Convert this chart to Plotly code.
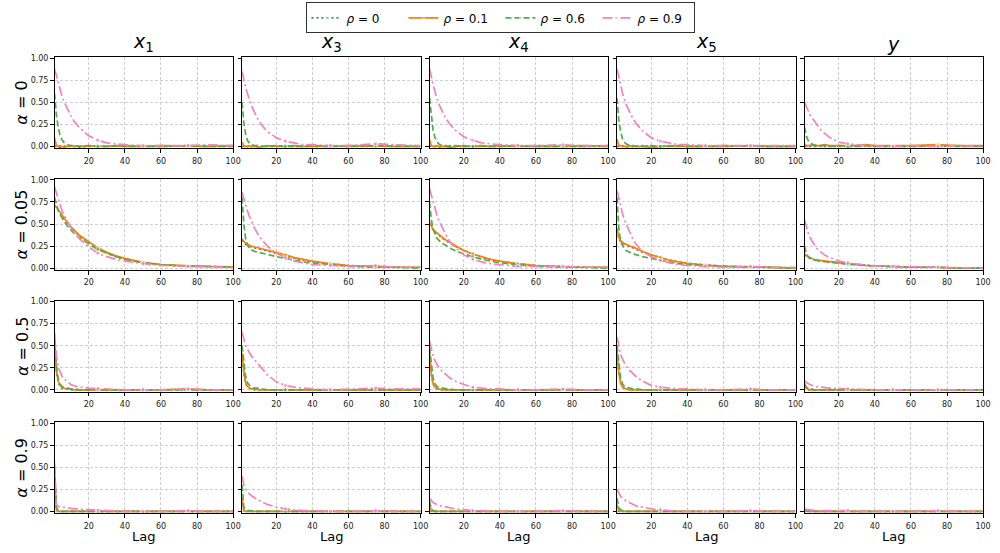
import plotly.graph_objects as go

# ---------------- data ----------------
LAGS = [1, 2, 3, 4, 5, 6, 8, 10, 12, 15, 20, 25, 30, 35, 40, 50, 60, 75, 85, 100]
MARKED_LAGS = [25, 50, 75]
RHO_LABELS = ["0", "0.1", "0.6", "0.9"]
COL_TITLES = ["<i>x</i><sub>1</sub>", "<i>x</i><sub>3</sub>", "<i>x</i><sub>4</sub>",
              "<i>x</i><sub>5</sub>", "<i>y</i>"]
ROW_ALPHAS = ["0", "0.05", "0.5", "0.9"]
X_TICKS = [20, 40, 60, 80, 100]
Y_TICKS = [0.0, 0.25, 0.5, 0.75, 1.0]

# each panel: [rho=0, rho=0.1, rho=0.6, rho=0.9]
A0_X1 = [
    [0.00, 0.01, 0.00, -0.01, 0.00, 0.00, 0.01, 0.00, 0.00, -0.01, 0.00, 0.01, 0.00, 0.00, 0.01, 0.00, 0.00, 0.01, 0.00, 0.00],
    [0.10, 0.01, 0.00, 0.01, 0.00, -0.01, 0.00, 0.01, 0.00, 0.00, 0.01, 0.00, 0.00, 0.01, 0.00, 0.00, 0.01, 0.00, 0.00, 0.01],
    [0.60, 0.36, 0.22, 0.13, 0.08, 0.05, 0.02, 0.01, 0.01, 0.00, 0.01, 0.00, 0.00, 0.01, 0.00, 0.00, 0.00, 0.01, 0.00, 0.00],
    [0.88, 0.80, 0.72, 0.65, 0.58, 0.52, 0.43, 0.35, 0.28, 0.21, 0.12, 0.07, 0.04, 0.03, 0.02, 0.01, 0.01, 0.01, 0.02, 0.01],
]
A0_X3 = [
    [0.00, 0.00, 0.01, 0.00, -0.01, 0.00, 0.00, 0.01, 0.00, 0.00, 0.00, 0.01, 0.00, 0.00, 0.00, 0.01, 0.00, 0.00, 0.01, 0.00],
    [0.05, 0.01, 0.00, 0.00, 0.01, 0.00, 0.00, -0.01, 0.00, 0.01, 0.00, 0.00, 0.01, 0.00, 0.00, 0.00, 0.01, 0.00, 0.00, 0.00],
    [0.50, 0.27, 0.14, 0.07, 0.04, 0.02, 0.01, 0.01, 0.00, 0.00, 0.01, 0.00, 0.00, 0.00, 0.01, 0.00, 0.00, 0.01, 0.00, 0.00],
    [0.85, 0.75, 0.67, 0.60, 0.53, 0.47, 0.38, 0.30, 0.24, 0.17, 0.10, 0.06, 0.04, 0.02, 0.02, 0.01, 0.01, 0.03, 0.02, 0.01],
]
A0_X4 = [
    [0.00, 0.01, 0.00, 0.00, 0.00, -0.01, 0.00, 0.00, 0.01, 0.00, 0.00, 0.00, 0.01, 0.00, 0.00, 0.00, 0.01, 0.00, 0.00, 0.00],
    [0.08, 0.01, 0.00, 0.00, 0.01, 0.00, 0.00, 0.00, -0.01, 0.00, 0.01, 0.00, 0.00, 0.00, 0.01, 0.00, 0.00, 0.00, 0.01, 0.00],
    [0.55, 0.32, 0.18, 0.10, 0.06, 0.03, 0.01, 0.01, 0.00, 0.01, 0.00, 0.00, 0.01, 0.00, 0.00, 0.01, 0.00, 0.00, 0.00, 0.01],
    [0.88, 0.78, 0.70, 0.62, 0.55, 0.49, 0.40, 0.32, 0.26, 0.19, 0.11, 0.07, 0.04, 0.03, 0.02, 0.01, 0.01, 0.02, 0.01, 0.01],
]
A0_X5 = [
    [0.00, 0.00, 0.00, 0.01, 0.00, 0.00, -0.01, 0.00, 0.00, 0.01, 0.00, 0.00, 0.00, 0.01, 0.00, 0.00, 0.00, 0.01, 0.00, 0.00],
    [0.08, 0.01, 0.01, 0.00, 0.00, 0.00, 0.01, 0.00, 0.00, 0.00, -0.01, 0.00, 0.01, 0.00, 0.00, 0.00, 0.00, 0.01, 0.00, 0.00],
    [0.55, 0.30, 0.17, 0.09, 0.05, 0.03, 0.01, 0.01, 0.00, 0.00, 0.01, 0.00, 0.00, 0.01, 0.00, 0.00, 0.01, 0.00, 0.00, 0.00],
    [0.88, 0.78, 0.69, 0.61, 0.54, 0.48, 0.39, 0.31, 0.25, 0.18, 0.10, 0.06, 0.04, 0.02, 0.02, 0.01, 0.01, 0.01, 0.01, 0.01],
]
A0_Y = [
    [0.00, 0.00, 0.01, 0.00, 0.00, 0.00, 0.00, 0.01, 0.00, 0.00, 0.00, 0.00, 0.01, 0.00, 0.00, 0.00, 0.00, 0.00, 0.01, 0.00],
    [0.03, 0.01, 0.01, 0.01, 0.02, 0.01, 0.01, 0.01, 0.02, 0.01, 0.01, 0.01, 0.01, 0.02, 0.01, 0.01, 0.01, 0.02, 0.01, 0.01],
    [0.22, 0.12, 0.07, 0.04, 0.03, 0.02, 0.01, 0.01, 0.01, 0.00, 0.01, 0.00, 0.00, 0.01, 0.00, 0.00, 0.00, 0.01, 0.00, 0.00],
    [0.50, 0.45, 0.40, 0.36, 0.33, 0.30, 0.24, 0.19, 0.15, 0.10, 0.05, 0.03, 0.02, 0.01, 0.01, 0.00, 0.01, 0.00, 0.01, 0.00],
]

A05_X1 = [
    [0.71, 0.68, 0.65, 0.62, 0.59, 0.56, 0.51, 0.46, 0.42, 0.36, 0.29, 0.22, 0.17, 0.13, 0.10, 0.06, 0.04, 0.02, 0.02, 0.01],
    [0.72, 0.69, 0.66, 0.63, 0.60, 0.57, 0.52, 0.47, 0.43, 0.37, 0.30, 0.23, 0.18, 0.14, 0.11, 0.065, 0.04, 0.025, 0.02, 0.015],
    [0.80, 0.72, 0.66, 0.61, 0.57, 0.54, 0.48, 0.43, 0.39, 0.34, 0.27, 0.21, 0.17, 0.13, 0.10, 0.06, 0.04, 0.02, 0.02, 0.01],
    [0.92, 0.85, 0.78, 0.72, 0.66, 0.61, 0.53, 0.46, 0.40, 0.33, 0.24, 0.17, 0.13, 0.10, 0.08, 0.05, 0.03, 0.02, 0.015, 0.01],
]
A05_X3 = [
    [0.32, 0.29, 0.27, 0.26, 0.25, 0.24, 0.23, 0.22, 0.21, 0.19, 0.17, 0.14, 0.11, 0.09, 0.07, 0.05, 0.03, 0.02, 0.01, 0.01],
    [0.33, 0.30, 0.28, 0.27, 0.26, 0.25, 0.24, 0.23, 0.22, 0.20, 0.18, 0.15, 0.12, 0.10, 0.08, 0.05, 0.03, 0.02, 0.01, 0.01],
    [0.80, 0.50, 0.33, 0.26, 0.23, 0.21, 0.19, 0.18, 0.17, 0.15, 0.13, 0.11, 0.09, 0.07, 0.06, 0.04, 0.02, 0.01, 0.01, 0.00],
    [0.86, 0.78, 0.71, 0.65, 0.59, 0.54, 0.45, 0.38, 0.32, 0.25, 0.17, 0.12, 0.08, 0.06, 0.04, 0.03, 0.02, 0.03, 0.01, 0.01],
]
A05_X4 = [
    [0.50, 0.46, 0.43, 0.41, 0.39, 0.37, 0.34, 0.31, 0.29, 0.25, 0.20, 0.16, 0.12, 0.10, 0.08, 0.05, 0.03, 0.02, 0.01, 0.01],
    [0.52, 0.47, 0.44, 0.42, 0.40, 0.38, 0.35, 0.32, 0.30, 0.26, 0.20, 0.16, 0.13, 0.10, 0.08, 0.05, 0.03, 0.02, 0.01, 0.01],
    [0.75, 0.55, 0.44, 0.38, 0.34, 0.32, 0.28, 0.26, 0.23, 0.20, 0.16, 0.13, 0.10, 0.08, 0.06, 0.04, 0.02, 0.01, 0.01, 0.00],
    [0.90, 0.82, 0.74, 0.67, 0.61, 0.55, 0.46, 0.38, 0.31, 0.24, 0.15, 0.10, 0.07, 0.05, 0.04, 0.02, 0.02, 0.02, 0.01, 0.01],
]
A05_X5 = [
    [0.43, 0.34, 0.30, 0.28, 0.27, 0.26, 0.24, 0.23, 0.21, 0.18, 0.15, 0.12, 0.09, 0.07, 0.055, 0.035, 0.02, 0.015, 0.01, 0.00],
    [0.45, 0.35, 0.31, 0.29, 0.28, 0.27, 0.25, 0.24, 0.22, 0.19, 0.15, 0.12, 0.09, 0.07, 0.055, 0.035, 0.02, 0.015, 0.01, 0.00],
    [0.80, 0.45, 0.30, 0.25, 0.22, 0.20, 0.18, 0.16, 0.15, 0.13, 0.11, 0.09, 0.07, 0.05, 0.04, 0.03, 0.02, 0.01, 0.01, 0.00],
    [0.88, 0.78, 0.70, 0.62, 0.55, 0.50, 0.40, 0.32, 0.26, 0.19, 0.13, 0.09, 0.06, 0.04, 0.03, 0.02, 0.01, 0.02, 0.01, 0.01],
]
A05_Y = [
    [0.15, 0.13, 0.12, 0.11, 0.10, 0.095, 0.09, 0.08, 0.075, 0.07, 0.06, 0.05, 0.04, 0.03, 0.025, 0.02, 0.01, 0.01, 0.00, 0.00],
    [0.16, 0.14, 0.13, 0.12, 0.11, 0.10, 0.09, 0.085, 0.08, 0.07, 0.06, 0.05, 0.04, 0.03, 0.025, 0.02, 0.01, 0.01, 0.00, 0.00],
    [0.25, 0.17, 0.13, 0.11, 0.10, 0.095, 0.085, 0.08, 0.075, 0.065, 0.055, 0.045, 0.035, 0.03, 0.025, 0.015, 0.01, 0.01, 0.00, 0.00],
    [0.55, 0.46, 0.40, 0.35, 0.31, 0.28, 0.22, 0.18, 0.15, 0.12, 0.08, 0.06, 0.045, 0.035, 0.025, 0.02, 0.01, 0.01, 0.005, 0.00],
]

A5_X1 = [
    [0.52, 0.20, 0.09, 0.04, 0.02, 0.01, 0.01, 0.00, 0.00, 0.00, 0.00, 0.00, 0.00, 0.00, 0.00, 0.00, 0.00, 0.00, 0.00, 0.00],
    [0.55, 0.22, 0.10, 0.05, 0.03, 0.02, 0.01, 0.01, 0.00, 0.00, 0.00, 0.00, 0.00, 0.00, 0.00, 0.00, 0.00, 0.01, 0.00, 0.00],
    [0.58, 0.28, 0.13, 0.07, 0.04, 0.03, 0.02, 0.01, 0.01, 0.00, 0.00, 0.00, 0.00, 0.00, 0.00, 0.00, 0.00, 0.00, 0.00, 0.00],
    [0.65, 0.38, 0.26, 0.20, 0.16, 0.13, 0.09, 0.06, 0.045, 0.03, 0.02, 0.015, 0.01, 0.00, 0.00, 0.00, 0.00, 0.01, 0.00, 0.00],
]
A5_X3 = [
    [0.40, 0.18, 0.07, 0.03, 0.02, 0.01, 0.00, 0.00, 0.00, 0.00, 0.00, 0.00, 0.00, 0.00, 0.00, 0.00, 0.00, 0.00, 0.00, 0.00],
    [0.42, 0.20, 0.08, 0.04, 0.02, 0.01, 0.01, 0.00, 0.00, 0.00, 0.00, 0.00, 0.00, 0.00, 0.00, 0.00, 0.00, 0.00, 0.00, 0.00],
    [0.50, 0.30, 0.15, 0.08, 0.05, 0.03, 0.02, 0.02, 0.01, 0.00, 0.00, 0.00, 0.00, 0.00, 0.00, 0.00, 0.00, 0.00, 0.00, 0.00],
    [0.65, 0.56, 0.50, 0.46, 0.42, 0.39, 0.34, 0.29, 0.24, 0.17, 0.09, 0.05, 0.03, 0.02, 0.01, 0.00, 0.01, 0.02, 0.01, 0.01],
]
A5_X4 = [
    [0.40, 0.17, 0.06, 0.03, 0.01, 0.01, 0.00, 0.00, 0.00, 0.00, 0.00, 0.00, 0.00, 0.00, 0.00, 0.00, 0.00, 0.00, 0.00, 0.00],
    [0.42, 0.18, 0.07, 0.03, 0.02, 0.01, 0.00, 0.00, 0.00, 0.00, 0.00, 0.00, 0.00, 0.00, 0.00, 0.00, 0.00, 0.00, 0.00, 0.00],
    [0.48, 0.27, 0.13, 0.07, 0.04, 0.03, 0.02, 0.01, 0.01, 0.00, 0.00, 0.00, 0.00, 0.00, 0.00, 0.00, 0.00, 0.00, 0.00, 0.00],
    [0.55, 0.45, 0.38, 0.33, 0.29, 0.26, 0.21, 0.17, 0.14, 0.10, 0.06, 0.03, 0.02, 0.01, 0.01, 0.00, 0.00, 0.01, 0.00, 0.00],
]
A5_X5 = [
    [0.42, 0.18, 0.07, 0.03, 0.01, 0.01, 0.00, 0.00, 0.00, 0.00, 0.00, 0.00, 0.00, 0.00, 0.00, 0.00, 0.00, 0.00, 0.00, 0.00],
    [0.44, 0.19, 0.08, 0.03, 0.02, 0.01, 0.00, 0.00, 0.00, 0.00, 0.00, 0.00, 0.00, 0.00, 0.00, 0.00, 0.00, 0.00, 0.00, 0.00],
    [0.50, 0.28, 0.14, 0.07, 0.04, 0.03, 0.02, 0.01, 0.01, 0.00, 0.00, 0.00, 0.00, 0.00, 0.00, 0.00, 0.00, 0.00, 0.00, 0.00],
    [0.60, 0.48, 0.40, 0.35, 0.31, 0.27, 0.22, 0.18, 0.14, 0.10, 0.05, 0.03, 0.02, 0.01, 0.01, 0.00, 0.00, 0.01, 0.00, 0.00],
]
A5_Y = [
    [0.04, 0.01, 0.00, 0.00, 0.00, 0.00, 0.00, 0.00, 0.00, 0.00, 0.00, 0.00, 0.00, 0.00, 0.00, 0.00, 0.00, 0.00, 0.00, 0.00],
    [0.05, 0.02, 0.01, 0.00, 0.00, 0.00, 0.00, 0.00, 0.00, 0.00, 0.00, 0.00, 0.00, 0.00, 0.00, 0.00, 0.00, 0.00, 0.00, 0.00],
    [0.07, 0.03, 0.02, 0.01, 0.01, 0.00, 0.00, 0.00, 0.00, 0.00, 0.00, 0.00, 0.00, 0.00, 0.00, 0.00, 0.00, 0.00, 0.00, 0.00],
    [0.10, 0.08, 0.07, 0.06, 0.05, 0.045, 0.035, 0.03, 0.025, 0.02, 0.015, 0.01, 0.01, 0.00, 0.00, 0.00, 0.00, 0.00, 0.00, 0.00],
]

A9_X1 = [
    [0.40, 0.01, 0.00, 0.00, 0.00, 0.00, 0.00, 0.00, 0.00, 0.00, 0.00, 0.00, 0.00, 0.00, 0.00, 0.00, 0.00, 0.00, 0.00, 0.00],
    [0.42, 0.02, 0.00, 0.00, 0.00, 0.00, 0.00, 0.00, 0.00, 0.00, 0.00, 0.00, 0.00, 0.00, 0.00, 0.00, 0.00, 0.00, 0.00, 0.00],
    [0.48, 0.05, 0.01, 0.00, 0.00, 0.00, 0.00, 0.00, 0.00, 0.00, 0.00, 0.00, 0.00, 0.00, 0.00, 0.00, 0.00, 0.00, 0.00, 0.00],
    [0.55, 0.08, 0.06, 0.05, 0.05, 0.045, 0.04, 0.035, 0.03, 0.025, 0.02, 0.015, 0.01, 0.00, 0.00, 0.00, 0.00, 0.01, 0.00, 0.00],
]
A9_X3 = [
    [0.14, 0.00, 0.00, 0.00, 0.00, 0.00, 0.00, 0.00, 0.00, 0.00, 0.00, 0.00, 0.00, 0.00, 0.00, 0.00, 0.00, 0.00, 0.00, 0.00],
    [0.15, 0.01, 0.00, 0.00, 0.00, 0.00, 0.00, 0.00, 0.00, 0.00, 0.00, 0.00, 0.00, 0.00, 0.00, 0.00, 0.00, 0.00, 0.00, 0.00],
    [0.30, 0.05, 0.02, 0.01, 0.01, 0.01, 0.00, 0.00, 0.00, 0.00, 0.00, 0.00, 0.00, 0.00, 0.00, 0.00, 0.00, 0.00, 0.00, 0.00],
    [0.40, 0.30, 0.25, 0.22, 0.20, 0.18, 0.15, 0.13, 0.11, 0.08, 0.05, 0.03, 0.02, 0.01, 0.01, 0.00, 0.00, 0.01, 0.00, 0.00],
]
A9_X4 = [
    [0.07, 0.00, 0.00, 0.00, 0.00, 0.00, 0.00, 0.00, 0.00, 0.00, 0.00, 0.00, 0.00, 0.00, 0.00, 0.00, 0.00, 0.00, 0.00, 0.00],
    [0.08, 0.01, 0.00, 0.00, 0.00, 0.00, 0.00, 0.00, 0.00, 0.00, 0.00, 0.00, 0.00, 0.00, 0.00, 0.00, 0.00, 0.00, 0.00, 0.00],
    [0.12, 0.03, 0.01, 0.00, 0.00, 0.00, 0.00, 0.00, 0.00, 0.00, 0.00, 0.00, 0.00, 0.00, 0.00, 0.00, 0.00, 0.00, 0.00, 0.00],
    [0.15, 0.12, 0.10, 0.09, 0.08, 0.07, 0.06, 0.05, 0.04, 0.03, 0.02, 0.01, 0.01, 0.00, 0.00, 0.00, 0.00, 0.01, 0.00, 0.00],
]
A9_X5 = [
    [0.07, 0.00, 0.00, 0.00, 0.00, 0.00, 0.00, 0.00, 0.00, 0.00, 0.00, 0.00, 0.00, 0.00, 0.00, 0.00, 0.00, 0.00, 0.00, 0.00],
    [0.08, 0.01, 0.00, 0.00, 0.00, 0.00, 0.00, 0.00, 0.00, 0.00, 0.00, 0.00, 0.00, 0.00, 0.00, 0.00, 0.00, 0.00, 0.00, 0.00],
    [0.15, 0.04, 0.02, 0.01, 0.00, 0.00, 0.00, 0.00, 0.00, 0.00, 0.00, 0.00, 0.00, 0.00, 0.00, 0.00, 0.00, 0.00, 0.00, 0.00],
    [0.25, 0.20, 0.17, 0.15, 0.13, 0.12, 0.10, 0.08, 0.06, 0.05, 0.03, 0.02, 0.01, 0.00, 0.00, 0.00, 0.00, 0.01, 0.00, 0.00],
]
A9_Y = [
    [0.01, 0.00, 0.00, 0.00, 0.00, 0.00, 0.00, 0.00, 0.00, 0.00, 0.00, 0.00, 0.00, 0.00, 0.00, 0.00, 0.00, 0.00, 0.00, 0.00],
    [0.01, 0.00, 0.00, 0.00, 0.00, 0.00, 0.00, 0.00, 0.00, 0.00, 0.00, 0.00, 0.00, 0.00, 0.00, 0.00, 0.00, 0.00, 0.00, 0.00],
    [0.02, 0.01, 0.01, 0.00, 0.00, 0.00, 0.00, 0.00, 0.00, 0.00, 0.00, 0.00, 0.00, 0.00, 0.00, 0.00, 0.00, 0.00, 0.00, 0.00],
    [0.03, 0.02, 0.02, 0.02, 0.02, 0.015, 0.01, 0.01, 0.01, 0.01, 0.01, 0.01, 0.00, 0.00, 0.00, 0.00, 0.00, 0.01, 0.00, 0.00],
]

PANELS = [
    [A0_X1, A0_X3, A0_X4, A0_X5, A0_Y],
    [A05_X1, A05_X3, A05_X4, A05_X5, A05_Y],
    [A5_X1, A5_X3, A5_X4, A5_X5, A5_Y],
    [A9_X1, A9_X3, A9_X4, A9_X5, A9_Y],
]

# ---------------- style ----------------
W, H = 1000, 553
COLORS = ["#377eb8", "#ff7f00", "#4daf4a", "#f781bf"]
DASHES = ["2px,3px", "solid", "6px,3px", "10px,3px,2px,3px"]
FONT = "DejaVu Sans"
COL_LEFT = [55, 244, 433, 622, 811]
COL_W = 180
ROW_TOP = [55, 178, 301, 424]
ROW_H = 92
Y_RANGE = [-0.022, 1.01]
X_RANGE = [1, 100]

marker_sizes = [4 if l in MARKED_LAGS else 0 for l in LAGS]

fig = go.Figure()
layout = dict(
    width=W, height=H, margin=dict(l=0, r=0, t=0, b=0),
    paper_bgcolor="white", plot_bgcolor="white",
    font=dict(family=FONT, color="#222"),
    showlegend=True,
)
annotations = []

for r in range(4):
    for c in range(5):
        idx = r * 5 + c + 1
        xa = "x" if idx == 1 else f"x{idx}"
        ya = "y" if idx == 1 else f"y{idx}"
        x0 = COL_LEFT[c] / W
        x1 = (COL_LEFT[c] + COL_W) / W
        y1 = 1 - ROW_TOP[r] / H
        y0 = 1 - (ROW_TOP[r] + ROW_H) / H
        common = dict(showline=True, mirror=True, linecolor="black", linewidth=1,
                      ticks="outside", ticklen=3.5, tickwidth=0.8, tickcolor="black",
                      showgrid=True, gridcolor="#cfcfcf", gridwidth=0.8, griddash="3px,2px",
                      zeroline=False, tickfont=dict(size=8, family=FONT, color="#222"))
        layout["xaxis" if idx == 1 else f"xaxis{idx}"] = dict(
            domain=[x0, x1], anchor=ya, range=X_RANGE, tickvals=X_TICKS,
            ticklabelstandoff=1, **common)
        layout["yaxis" if idx == 1 else f"yaxis{idx}"] = dict(
            domain=[y0, y1], anchor=xa, range=Y_RANGE, tickvals=Y_TICKS,
            tickformat=".2f", showticklabels=(c == 0), **common)
        panel = PANELS[r][c]
        for s in range(4):
            fig.add_trace(go.Scatter(
                x=LAGS, y=panel[s], xaxis=xa, yaxis=ya,
                mode="lines+markers",
                line=dict(color=COLORS[s], width=1.7, dash=DASHES[s]),
                marker=dict(color=COLORS[s], size=marker_sizes),
                name=f"<i>ρ</i> = {RHO_LABELS[s]}",
                legendgroup=str(s),
                showlegend=(idx == 1),
            ))
        if r == 0:
            annotations.append(dict(
                x=(COL_LEFT[c] + COL_W / 2) / W, y=1 - 55 / H, xref="paper", yref="paper",
                text=COL_TITLES[c], showarrow=False, yanchor="bottom", xanchor="center",
                font=dict(size=19, family=FONT, color="black")))
        if r == 3:
            annotations.append(dict(
                x=(COL_LEFT[c] + COL_W / 2) / W, y=1 - 539 / H, xref="paper", yref="paper",
                text="Lag", showarrow=False, yanchor="middle", xanchor="center",
                font=dict(size=13, family=FONT, color="black")))
    annotations.append(dict(
        x=22 / W, y=1 - (ROW_TOP[r] + ROW_H / 2) / H, xref="paper", yref="paper",
        text=f"<i>α</i> = {ROW_ALPHAS[r]}", showarrow=False, textangle=-90,
        xanchor="center", yanchor="middle",
        font=dict(size=16, family=FONT, color="black")))

layout["annotations"] = annotations
layout["legend"] = dict(
    orientation="h", x=0.505, xanchor="center", y=1 - 15 / H, yanchor="middle",
    bgcolor="white", bordercolor="#333", borderwidth=1,
    font=dict(size=12, family=FONT, color="black"),
    entrywidth=52, itemwidth=30, tracegroupgap=0,
)
fig.update_layout(**layout)
fig.write_html("out.html")
